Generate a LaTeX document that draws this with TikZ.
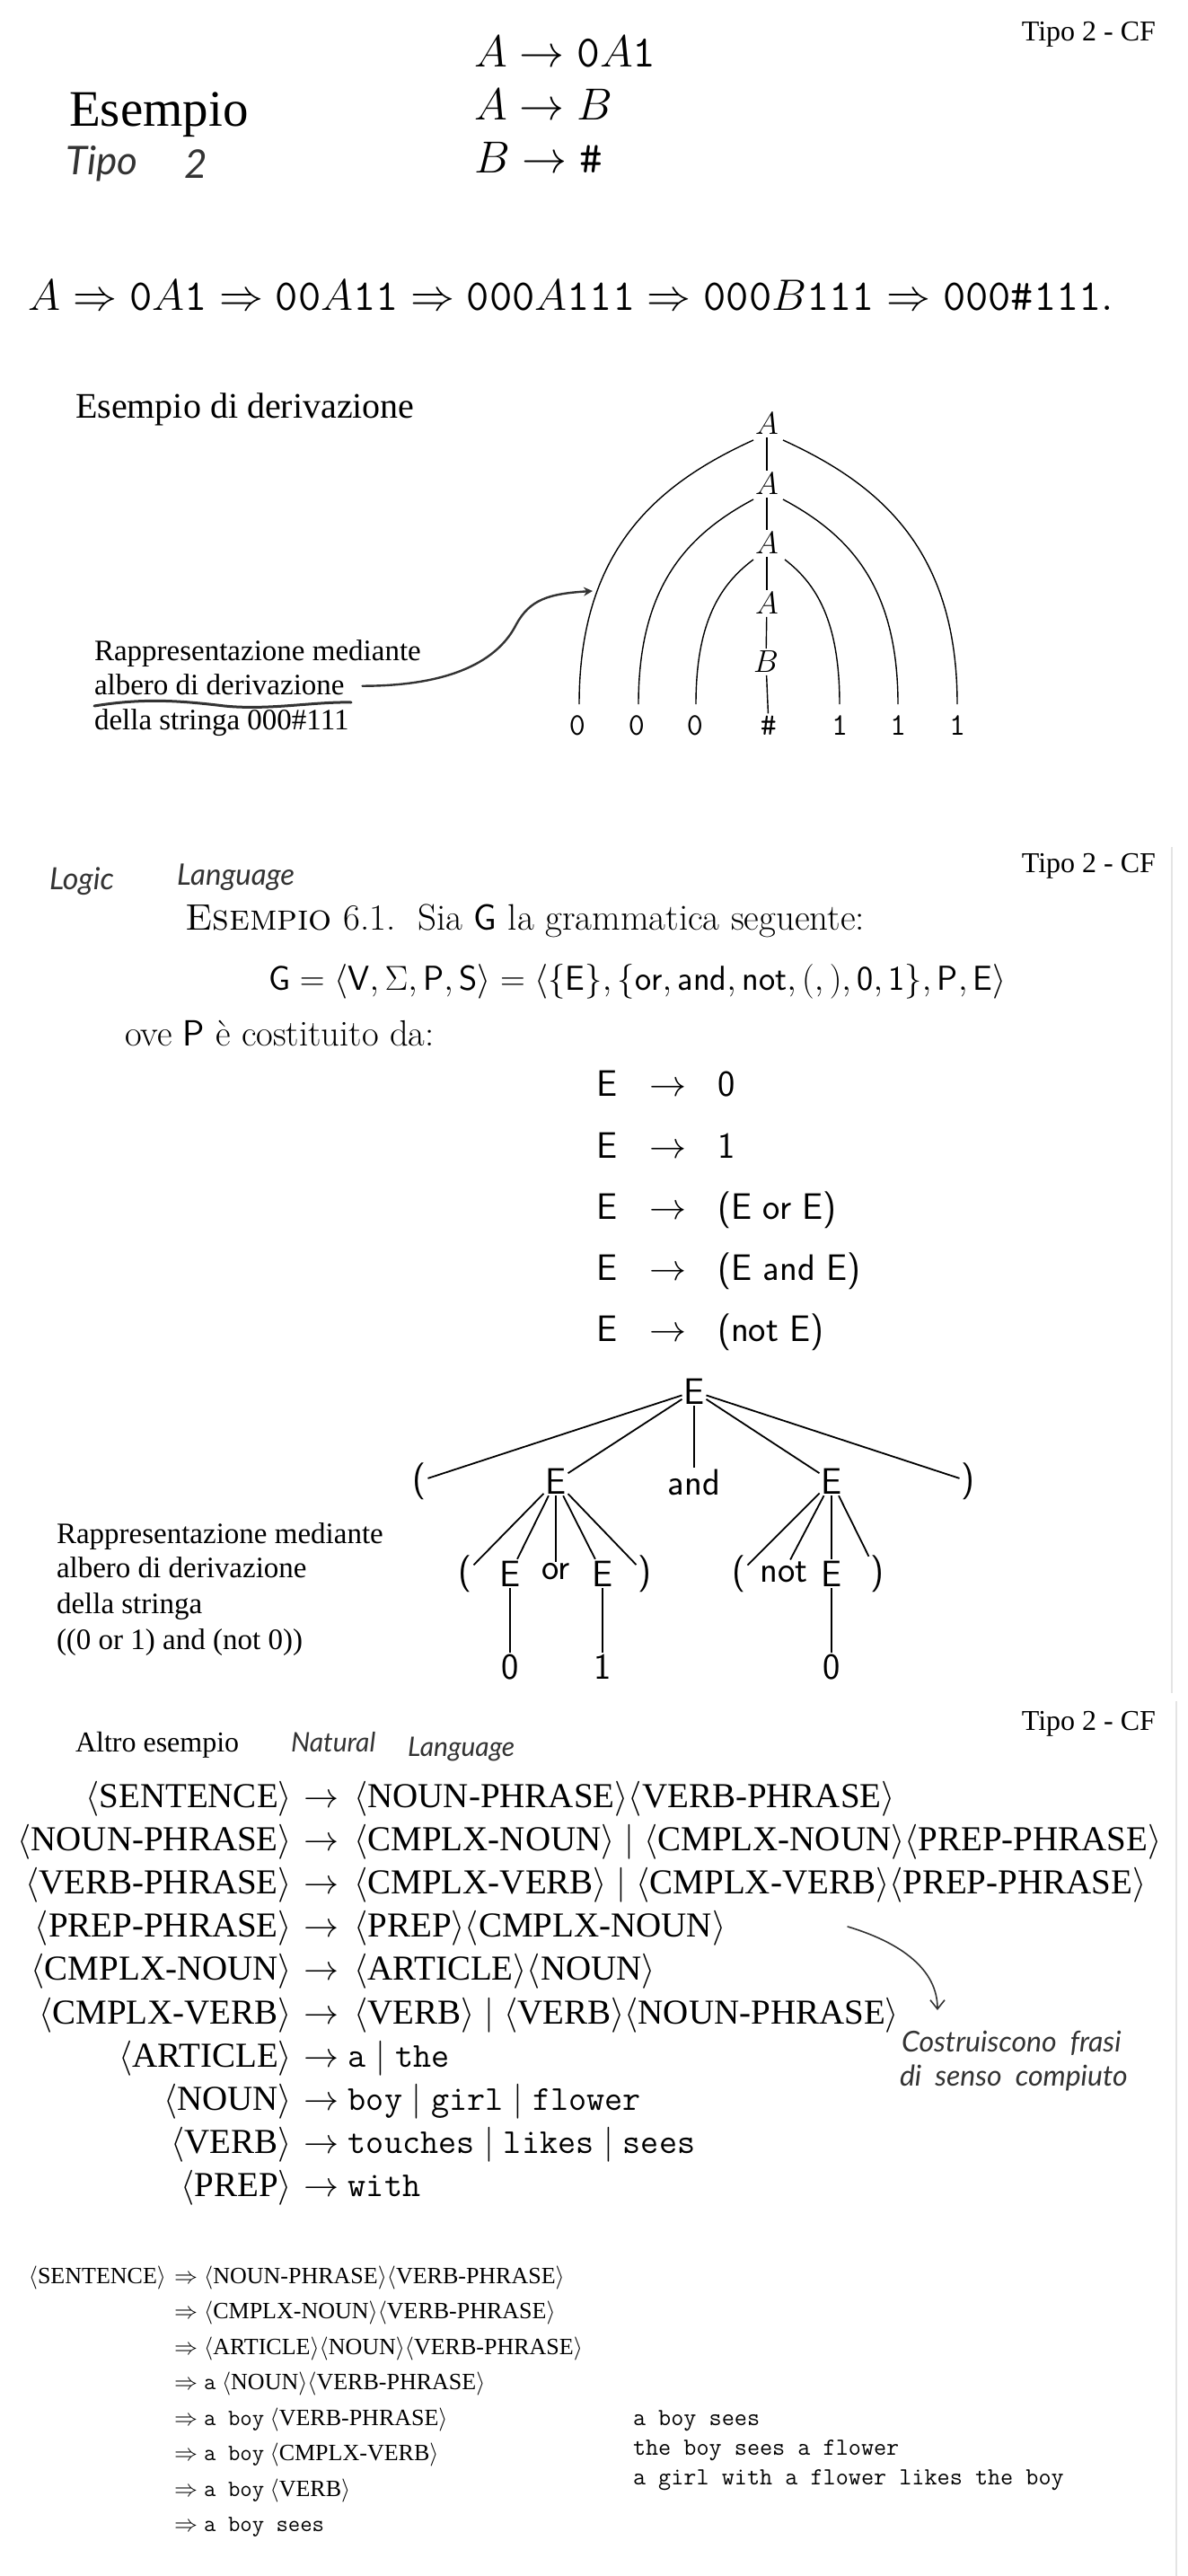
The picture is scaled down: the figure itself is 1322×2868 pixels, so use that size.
\RequirePackage{fix-cm}
\documentclass[tikz,border=0pt]{standalone}
\usepackage{amsmath}
\usepackage{fontspec}
\newfontfamily\tnr{Liberation Serif}
\newfontfamily\hand{Lato}
\usetikzlibrary{calc,arrows.meta}
\newcommand{\fsz}[1]{\fontsize{#1}{#1}\selectfont}
\definecolor{hwc}{HTML}{333333}
\definecolor{edgegray}{HTML}{E4E4E4}
\begin{document}
\begin{tikzpicture}[x=0.5pt,y=-0.5pt,
  every node/.style={inner sep=0pt,outer sep=0pt},
  cf/.style={anchor=base east,font=\tnr\fsz{16}},
  tx/.style={anchor=base west},
  hw/.style={anchor=base west,text=hwc,font=\hand\itshape\fsz{#1}},
  rulefont/.style={anchor=base west,font=\fsz{25}},
  t1/.style={font=\fsz{17.5},inner sep=1.5pt},
  t2/.style={font=\sffamily\fsz{20.5},inner sep=1pt},
  e1/.style={line width=0.7pt},
  e2/.style={line width=0.9pt},
  gl/.style={anchor=base east,font=\tnr\fsz{19.5}},
  gr/.style={anchor=base west,font=\tnr\fsz{19.5}},
  dl/.style={anchor=base east,font=\tnr\fsz{13}},
  dr/.style={anchor=base west,font=\tnr\fsz{13}},
  erule/.style={anchor=base west,font=\sffamily\fsz{20.5}},
  harrow/.style={draw=hwc,line width=1.2pt,line cap=round,-{Stealth[length=5pt,width=5pt]}},
  harrowb/.style={draw=hwc,line width=0.8pt,line cap=round,-{Straight Barb[length=5pt,width=8pt]}},
]
\fill[white] (0,0) rectangle (1322,2868);
\useasboundingbox (0,0) rectangle (1322,2868);

% ---------------- Section 1 ----------------
\node[cf] (cf1) at (1287,46) {Tipo 2 - CF};
\node[tx,font=\tnr\fsz{28.5}] (esempio) at (77,141) {Esempio};
\node[hw=22] (tipoh) at (73,195) {Tipo};
\node[hw=22] (dueh) at (205,199) {2};

\node[rulefont] (r1) at (528,75) {$A \rightarrow \texttt{0}A\texttt{1}$};
\node[rulefont] (r2) at (528,134) {$A \rightarrow B$};
\node[rulefont] (r3) at (528,193) {$B \rightarrow \texttt{\#}$};

\node[anchor=base west,font=\fsz{24.5}] (der) at (32,346) {$A \Rightarrow \texttt{0}A\texttt{1} \Rightarrow \texttt{00}A\texttt{11} \Rightarrow \texttt{000}A\texttt{111} \Rightarrow \texttt{000}B\texttt{111} \Rightarrow \texttt{000\#111}.$};

\node[tx,font=\tnr\fsz{20}] (edd) at (84,465) {Esempio di derivazione};

% tree 1
\node[t1] (a1) at (854,472) {$A$};
\node[t1] (a2) at (854,539) {$A$};
\node[t1] (a3) at (854,605) {$A$};
\node[t1] (a4) at (854,672) {$A$};
\node[t1] (b1) at (853,737) {$B$};
\node[t1] (l1) at (643,808) {\texttt{0}};
\node[t1] (l2) at (709,808) {\texttt{0}};
\node[t1] (l3) at (774,808) {\texttt{0}};
\node[t1] (lh) at (856,808) {\texttt{\#}};
\node[t1] (l5) at (935,808) {\texttt{1}};
\node[t1] (l6) at (1000,808) {\texttt{1}};
\node[t1] (l7) at (1066,808) {\texttt{1}};

\draw[e1] (a1) -- (a2);
\draw[e1] (a2) -- (a3);
\draw[e1] (a3) -- (a4);
\draw[e1] (a4) -- (b1);
\draw[e1] (b1) -- (lh);
\draw[e1] ($(a1)+(-15,18)$) .. controls +(-110,50) and +(0,-170) .. ($(l1)+(2,-24)$);
\draw[e1] ($(a2)+(-15,17)$) .. controls +(-73,39) and +(0,-132) .. ($(l2)+(2,-24)$);
\draw[e1] ($(a3)+(-15,18)$) .. controls +(-36,27) and +(0,-93) .. ($(l3)+(1,-24)$);
\draw[e1] ($(a1)+(18,18)$) .. controls +(110,50) and +(0,-170) .. ($(l7)+(0,-24)$);
\draw[e1] ($(a2)+(18,17)$) .. controls +(73,39) and +(0,-132) .. ($(l6)+(0,-24)$);
\draw[e1] ($(a3)+(20,18)$) .. controls +(35,27) and +(0,-93) .. ($(l5)+(0,-24)$);

\node[tx,font=\tnr\fsz{16.5}] (rap1) at (105,735) {Rappresentazione mediante};
\node[tx,font=\tnr\fsz{16.5}] (rap2) at (105,773) {albero di derivazione};
\node[tx,font=\tnr\fsz{16.5}] (rap3) at (105,812) {della stringa 000\#111};

\draw[draw=hwc,line width=1.5pt,line cap=round] (105,786) .. controls (160,777) and (200,780) .. (250,786) .. controls (300,791) and (350,781) .. (391,782);
\coordinate (arr1) at (660,658);
\draw[harrow] ($(rap2.east)+(20,2)$) .. controls +(100,0) and +(-20,40) .. (575,695) .. controls +(15,-27) and +(-50,3) .. (arr1);

% ---------------- Section 2 ----------------
\node[hw=17] (logic) at (55,990) {Logic};
\node[hw=16.5] (lang1) at (197,985) {Language};
\node[cf] (cf2) at (1287,971) {Tipo 2 - CF};
\node[tx,font=\fsz{20.5}] (es61) at (206,1035) {\textsc{Esempio} 6.1.\ \ Sia \textsf{G} la grammatica seguente:};
\node[tx,font=\fsz{19.3}] (gdef) at (299,1102) {$\mathsf{G}=\langle \mathsf{V},\Sigma,\mathsf{P},\mathsf{S}\rangle=\langle\{\mathsf{E}\},\{\mathsf{or},\mathsf{and},\mathsf{not},(,),\mathsf{0},\mathsf{1}\},\mathsf{P},\mathsf{E}\rangle$};
\node[tx,font=\fsz{20.3}] (ove) at (139,1164) {ove \textsf{P} è costituito da:};

\node[erule] (pr1) at (664,1220) {\makebox[29.5pt][l]{E}\makebox[38pt][l]{$\rightarrow$}0};
\node[erule] (pr2) at (664,1289) {\makebox[29.5pt][l]{E}\makebox[38pt][l]{$\rightarrow$}1};
\node[erule] (pr3) at (664,1357) {\makebox[29.5pt][l]{E}\makebox[38pt][l]{$\rightarrow$}(E or E)};
\node[erule] (pr4) at (664,1425) {\makebox[29.5pt][l]{E}\makebox[38pt][l]{$\rightarrow$}(E and E)};
\node[erule] (pr5) at (664,1493) {\makebox[29.5pt][l]{E}\makebox[38pt][l]{$\rightarrow$}(not E)};

% tree 2
\node[t2] (e0) at (773,1549) {E};
\node[t2] (p1) at (467,1649) {(};
\node[t2] (e1) at (619,1649) {E};
\node[t2] (and) at (773,1650) {and};
\node[t2] (e2) at (926,1649) {E};
\node[t2] (q1) at (1078,1649) {)};
\node[t2] (p2) at (518,1752) {(};
\node[t2] (e3) at (568,1752) {E};
\node[t2] (or) at (619,1750) {or};
\node[t2] (e4) at (671,1752) {E};
\node[t2] (q2) at (718,1752) {)};
\node[t2] (p3) at (823,1752) {(};
\node[t2] (not) at (873,1750) {not};
\node[t2] (e5) at (926,1752) {E};
\node[t2] (q3) at (977,1752) {)};
\node[t2] (z1) at (568,1856) {0};
\node[t2] (o1) at (671,1856) {1};
\node[t2] (z2) at (926,1856) {0};

\foreach \c in {p1,e1,and,e2,q1} \draw[e2] (e0) -- (\c);
\foreach \c in {p2,e3,or,e4,q2} \draw[e2] (e1) -- (\c);
\foreach \c in {p3,not,e5,q3} \draw[e2] (e2) -- (\c);
\draw[e2] (e3) -- (z1);
\draw[e2] (e4) -- (o1);
\draw[e2] (e5) -- (z2);

\node[tx,font=\tnr\fsz{16.5}] (rb1) at (63,1718) {Rappresentazione mediante};
\node[tx,font=\tnr\fsz{16.5}] (rb2) at (63,1756) {albero di derivazione};
\node[tx,font=\tnr\fsz{16.5}] (rb3) at (63,1796) {della stringa};
\node[tx,font=\tnr\fsz{16.5}] (rb4) at (63,1836) {((0 or 1) and (not 0))};

\draw[edgegray,line width=1pt] (1305,943) -- (1305,1885);

% ---------------- Section 3 ----------------
\node[cf] (cf3) at (1287,1926) {Tipo 2 - CF};
\node[tx,font=\tnr\fsz{16}] (altro) at (84,1950) {Altro esempio};
\node[hw=15] (nat) at (324,1950) {Natural};
\node[hw=15] (lang2) at (454,1955) {Language};

\node[gl] (g1l) at (325,2012) {$\langle\text{SENTENCE}\rangle$};
\node[gr] (g1r) at (338,2012) {$\rightarrow\,\langle\text{NOUN-PHRASE}\rangle\langle\text{VERB-PHRASE}\rangle$};
\node[gl] (g2l) at (325,2060) {$\langle\text{NOUN-PHRASE}\rangle$};
\node[gr] (g2r) at (338,2060) {$\rightarrow\,\langle\text{CMPLX-NOUN}\rangle \mid \langle\text{CMPLX-NOUN}\rangle\langle\text{PREP-PHRASE}\rangle$};
\node[gl] (g3l) at (325,2108) {$\langle\text{VERB-PHRASE}\rangle$};
\node[gr] (g3r) at (338,2108) {$\rightarrow\,\langle\text{CMPLX-VERB}\rangle \mid \langle\text{CMPLX-VERB}\rangle\langle\text{PREP-PHRASE}\rangle$};
\node[gl] (g4l) at (325,2156) {$\langle\text{PREP-PHRASE}\rangle$};
\node[gr] (g4r) at (338,2156) {$\rightarrow\,\langle\text{PREP}\rangle\langle\text{CMPLX-NOUN}\rangle$};
\node[gl] (g5l) at (325,2204) {$\langle\text{CMPLX-NOUN}\rangle$};
\node[gr] (g5r) at (338,2204) {$\rightarrow\,\langle\text{ARTICLE}\rangle\langle\text{NOUN}\rangle$};
\node[gl] (g6l) at (325,2253) {$\langle\text{CMPLX-VERB}\rangle$};
\node[gr] (g6r) at (338,2253) {$\rightarrow\,\langle\text{VERB}\rangle \mid \langle\text{VERB}\rangle\langle\text{NOUN-PHRASE}\rangle$};
\node[gl] (g7l) at (325,2301) {$\langle\text{ARTICLE}\rangle$};
\node[gr] (g7r) at (338,2301) {$\rightarrow \texttt{a} \mid \texttt{the}$};
\node[gl] (g8l) at (325,2349) {$\langle\text{NOUN}\rangle$};
\node[gr] (g8r) at (338,2349) {$\rightarrow \texttt{boy} \mid \texttt{girl} \mid \texttt{flower}$};
\node[gl] (g9l) at (325,2397) {$\langle\text{VERB}\rangle$};
\node[gr] (g9r) at (338,2397) {$\rightarrow \texttt{touches} \mid \texttt{likes} \mid \texttt{sees}$};
\node[gl] (g10l) at (325,2445) {$\langle\text{PREP}\rangle$};
\node[gr] (g10r) at (338,2445) {$\rightarrow \texttt{with}$};

\node[hw=16] (cost) at (1004,2284) {Costruiscono\ \ frasi};
\node[hw=16] (senso) at (1002,2322) {di\ \ senso\ \ compiuto};
\coordinate (arr3s) at (944,2145);
\coordinate (arr3e) at (1044,2238);
\draw[harrowb] (arr3s) .. controls +(60,18) and +(0,-45) .. (arr3e);

\node[dl] (d0l) at (185,2542) {$\langle\text{SENTENCE}\rangle$};
\node[dr] (d0) at (194,2542) {$\Rightarrow \langle\text{NOUN-PHRASE}\rangle\langle\text{VERB-PHRASE}\rangle$};
\node[dr] (d1) at (194,2581) {$\Rightarrow \langle\text{CMPLX-NOUN}\rangle\langle\text{VERB-PHRASE}\rangle$};
\node[dr] (d2) at (194,2621) {$\Rightarrow \langle\text{ARTICLE}\rangle\langle\text{NOUN}\rangle\langle\text{VERB-PHRASE}\rangle$};
\node[dr] (d3) at (194,2660) {$\Rightarrow \texttt{a}\ \langle\text{NOUN}\rangle\langle\text{VERB-PHRASE}\rangle$};
\node[dr] (d4) at (194,2700) {$\Rightarrow \texttt{a boy}\ \langle\text{VERB-PHRASE}\rangle$};
\node[dr] (d5) at (194,2739) {$\Rightarrow \texttt{a boy}\ \langle\text{CMPLX-VERB}\rangle$};
\node[dr] (d6) at (194,2779) {$\Rightarrow \texttt{a boy}\ \langle\text{VERB}\rangle$};
\node[dr] (d7) at (194,2818) {$\Rightarrow \texttt{a boy sees}$};

\node[tx,font=\ttfamily\fsz{13.7}] (ex1) at (705,2700) {a boy sees};
\node[tx,font=\ttfamily\fsz{13.7}] (ex2) at (705,2733) {the boy sees a flower};
\node[tx,font=\ttfamily\fsz{13.7}] (ex3) at (705,2766) {a girl with a flower likes the boy};

\draw[edgegray,line width=1pt] (1310,1894) -- (1310,2868);
\end{tikzpicture}
\end{document}
